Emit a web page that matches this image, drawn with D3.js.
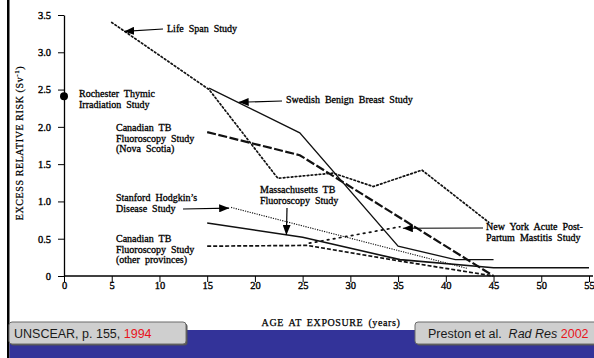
<!DOCTYPE html>
<html>
<head>
<meta charset="utf-8">
<script src="https://cdn.jsdelivr.net/npm/d3@7"></script>
<style>
  body { margin: 0; background: #fff; }
  svg { display: block; }
</style>
</head>
<body>
<svg class="chart"></svg>
<script>
// ages (years) and excess relative risk (Sv-1)
const lifeSpan = [[5, 3.4], [15.2, 2.5], [22.4, 1.31], [28.2, 1.38], [32.4, 1.2], [37.5, 1.42], [44.5, 0.72]];
const swedish = [[15.2, 2.52], [24.7, 1.92], [35, 0.4], [41, 0.22], [45, 0.22]];
const novaScotia = [[15, 1.93], [24.7, 1.62], [45, 0]];
const stanford = [[17.5, 0.92], [42.3, 0.1]];
const massachusetts = [[15, 0.71], [25, 0.52], [35.2, 0.22], [45, 0.11], [55, 0.11]];
const canadianOther = [[15, 0.4], [25.5, 0.41], [35.2, 0.2], [45, 0]];
const newYork = [[25.7, 0.44], [35.2, 0.66]];
const rochester = [[0, 2.41]];

const xTicks = [0, 5, 10, 15, 20, 25, 30, 35, 40, 45, 50, 55];
const yTicks = [0, 0.5, 1.0, 1.5, 2.0, 2.5, 3.0, 3.5];

const width = 594;
const height = 358;
const svg = d3.select('.chart').attr('width', width).attr('height', height);

const x = d3.scaleLinear().domain([0, 55]).range([64, 589]);
const y = d3.scaleLinear().domain([0, 3.5]).range([276, 15]);

const serif = '"Liberation Serif", "Times New Roman", serif';
const sans = '"Liberation Sans", Arial, sans-serif';

svg.append('defs').append('marker')
    .attr('id', 'head')
    .attr('viewBox', '0 0 10 8')
    .attr('refX', 10).attr('refY', 4)
    .attr('markerWidth', 10).attr('markerHeight', 8)
    .attr('markerUnits', 'userSpaceOnUse')
    .attr('orient', 'auto')
  .append('path')
    .attr('d', 'M0,0 L10,4 L0,8 Z')
    .attr('fill', '#000');

// axes
const xAxis = svg.append('g')
    .attr('transform', `translate(0,${y(0)})`)
    .call(d3.axisBottom(x).tickValues(xTicks).tickSize(6).tickSizeOuter(0).tickFormat(d3.format('d')));
xAxis.select('.domain').attr('d', `M${x(0)},0H${x(55) + 4}`).attr('stroke-width', 1.3);
xAxis.selectAll('text').attr('font-family', serif).attr('font-size', 10.5).attr('dy', '0.9em').attr('y', 4)
    .attr('stroke', '#000').attr('stroke-width', 0.35);

const yAxis = svg.append('g')
    .attr('transform', `translate(${x(0)},0)`)
    .call(d3.axisLeft(y).tickValues(yTicks).tickSize(6).tickSizeOuter(0)
      .tickFormat(d => d === 0 ? '0' : d3.format('.1f')(d)));
yAxis.select('.domain').attr('stroke-width', 1.3);
yAxis.selectAll('text').attr('font-family', serif).attr('font-size', 10.5).attr('x', -13)
    .attr('stroke', '#000').attr('stroke-width', 0.35);

svg.append('text')
    .attr('transform', `translate(23,${143}) rotate(-90)`)
    .attr('text-anchor', 'middle')
    .attr('font-family', serif).attr('font-size', 10)
    .attr('letter-spacing', 0.6)
    .attr('stroke', '#000').attr('stroke-width', 0.25)
    .text('EXCESS RELATIVE RISK (Sv')
  .append('tspan').attr('baseline-shift', 'super').attr('font-size', 7).text('-1')
  .select(function() { return this.parentNode; })
  .append('tspan').text(')');

svg.append('text')
    .attr('x', 331).attr('y', 326)
    .attr('text-anchor', 'middle')
    .attr('font-family', serif).attr('font-size', 10)
    .attr('letter-spacing', 0.6).attr('word-spacing', 2)
    .attr('stroke', '#000').attr('stroke-width', 0.25)
    .text('AGE AT EXPOSURE (years)');

// series
const line = d3.line().x(d => x(d[0])).y(d => y(d[1]));
const series = [
  {data: lifeSpan, w: 1.7, dash: '1.6,2.4', cap: 'round'},
  {data: swedish, w: 1.3, dash: null},
  {data: novaScotia, w: 2.2, dash: '9,2.5'},
  {data: stanford, w: 1.1, dash: '1.2,1.2'},
  {data: massachusetts, w: 1.6, dash: null},
  {data: canadianOther, w: 1.7, dash: '4,2'},
  {data: newYork, w: 1.7, dash: '1.6,4.5', cap: 'round'}
];
svg.append('g').selectAll('path').data(series).join('path')
    .attr('d', d => line(d.data))
    .attr('fill', 'none')
    .attr('stroke', '#111')
    .attr('stroke-width', d => d.w)
    .attr('stroke-dasharray', d => d.dash)
    .attr('stroke-linecap', d => d.cap || 'butt');

svg.append('g').selectAll('circle').data(rochester).join('circle')
    .attr('cx', d => x(d[0])).attr('cy', d => y(d[1]))
    .attr('r', 4).attr('fill', '#000');

// labels
const labels = [
  {lines: ['Life Span Study'], x: 167, y: 32},
  {lines: ['Rochester Thymic', 'Irradiation Study'], x: 79, y: 97},
  {lines: ['Swedish Benign Breast Study'], x: 286, y: 103},
  {lines: ['Canadian TB', 'Fluoroscopy Study', '(Nova Scotia)'], x: 116, y: 131},
  {lines: ['Stanford Hodgkin\u2019s', 'Disease Study'], x: 116, y: 201},
  {lines: ['Massachusetts TB', 'Fluoroscopy Study'], x: 260, y: 193},
  {lines: ['Canadian TB', 'Fluoroscopy Study', '(other provinces)'], x: 116, y: 242},
  {lines: ['New York Acute Post-', 'Partum Mastitis Study'], x: 486, y: 230}
];
const lg = svg.append('g')
    .attr('font-family', serif).attr('font-size', 10)
    .attr('word-spacing', 2.5).attr('fill', '#000')
    .attr('stroke', '#000').attr('stroke-width', 0.3);
labels.forEach(l => {
  const t = lg.append('text').attr('x', l.x).attr('y', l.y);
  l.lines.forEach((s, i) => t.append('tspan').attr('x', l.x).attr('dy', i ? 10.5 : 0).text(s));
});

// arrows: start in pixels, tip on the data
const arrows = [
  {from: [163, 29], to: [6.3, 3.28]},
  {from: [282, 101], to: [18.3, 2.33]},
  {from: [183, 209], to: [17.3, 0.91]},
  {from: [287, 208], to: [23.3, 0.55]},
  {from: [483, 228], to: [35.5, 0.64]}
];
svg.append('g').selectAll('line').data(arrows).join('line')
    .attr('x1', d => d.from[0]).attr('y1', d => d.from[1])
    .attr('x2', d => x(d.to[0])).attr('y2', d => y(d.to[1]))
    .attr('stroke', '#000').attr('stroke-width', 1.2)
    .attr('marker-end', 'url(#head)');

// slide frame
svg.append('rect').attr('x', 7).attr('y', 0).attr('width', 2.5).attr('height', height).attr('fill', '#000');
svg.append('rect').attr('x', 9.5).attr('y', 330).attr('width', width).attr('height', 28).attr('fill', '#333399');

const boxes = [
  {x: 9, w: 177, parts: [['UNSCEAR, p. 155, ', '#1a1a1a', 'normal'], ['1994', '#e8141c', 'normal']], tx: 14},
  {x: 415, w: 185, parts: [['Preston et al.  ', '#1a1a1a', 'normal'], ['Rad Res', '#1a1a1a', 'italic'], [' 2002', '#e8141c', 'normal']], tx: 428}
];
boxes.forEach(b => {
  svg.append('rect').attr('x', b.x + 1.5).attr('y', 323.5).attr('width', b.w).attr('height', 22)
      .attr('rx', 3).attr('fill', '#555');
  svg.append('rect').attr('x', b.x).attr('y', 322).attr('width', b.w).attr('height', 22)
      .attr('rx', 3).attr('fill', '#cfcfcf').attr('stroke', '#6a6a6a').attr('stroke-width', 1);
  const t = svg.append('text').attr('x', b.tx).attr('y', 338)
      .attr('font-family', sans).attr('font-size', 12.5).attr('xml:space', 'preserve');
  b.parts.forEach(p => t.append('tspan').attr('fill', p[1]).attr('font-style', p[2]).text(p[0]));
});
</script>
</body>
</html>
